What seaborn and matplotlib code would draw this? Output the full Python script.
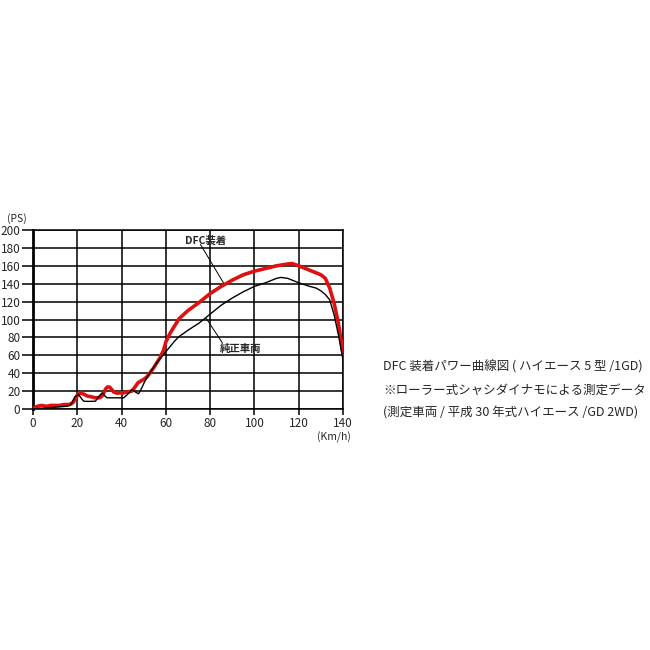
import matplotlib
matplotlib.use("Agg")
import matplotlib.pyplot as plt
import seaborn as sns
import pandas as pd

sns.set_theme(style="white")
plt.rcParams['font.family'] = ['Noto Sans CJK JP', 'DejaVu Sans']

# DFC装着 (red)
dfc_speed = [0, 2, 4, 6, 8, 10, 12, 14, 16, 17, 18, 19, 20, 21.4, 23, 24.5, 26.6, 28, 30, 31, 32, 32.7, 33.5,
             34.6, 35.5, 36.4, 37.9, 39.5, 40.9, 42.4, 44.7, 46.2, 47.3, 48.5, 50, 51.5, 53, 54.5, 56, 57.5,
             59, 60, 62, 64, 66, 70, 75, 80, 85, 90, 95, 100,
             105, 110, 115, 117, 120, 125, 130, 132, 134, 136, 138, 140]
dfc_power = [1, 3, 4, 3, 4, 4, 4, 5, 5, 5.5, 7, 11, 15, 18, 16.5, 14.5, 13.5, 12.5, 12.5, 14, 18, 22, 24.5,
             24.5, 22, 19, 17.7, 18, 18, 19, 20, 25, 29, 31, 33, 36, 41, 46, 52, 58,
             66, 75, 85, 93, 101, 110, 119, 129, 137, 144, 150, 154,
             157, 160, 162, 162.5, 160, 155, 150, 146, 135, 118, 95, 62]

# 純正車両 (black)
std_speed = [0, 5, 10, 15, 16.8, 18, 19, 20.6, 22.1, 22.9, 25, 28.2, 29.7, 31.2, 32.7, 33.5, 36, 38.5, 41,
             43.4, 44.7, 46.2, 47.7, 49.2, 50.5, 52.2, 54, 56, 58, 60, 62, 64, 66, 70, 75, 80, 85, 90, 95,
             100, 105, 110, 112, 115, 120, 125, 128, 130, 132, 134, 136, 138, 140]
std_power = [0, 1, 2, 3, 4, 9, 14, 16, 11, 8.7, 8.5, 8.7, 14, 18, 14, 12.5, 12.5, 12.5, 12.5,
             18, 22, 19, 17, 24, 31, 38, 45, 52, 58, 64, 70, 76, 81, 88, 96, 106, 116, 124, 131,
             137, 141, 146, 147, 146, 141, 137, 135, 132, 128, 122, 105, 82, 55]

x_ticks = [0, 20, 40, 60, 80, 100, 120, 140]
y_ticks = [0, 20, 40, 60, 80, 100, 120, 140, 160, 180, 200]

caption = ["DFC 装着パワー曲線図 ( ハイエース 5 型 /1GD)",
           "※ローラー式シャシダイナモによる測定データ",
           "(測定車両 / 平成 30 年式ハイエース /GD 2WD)"]

df_dfc = pd.DataFrame({"speed": dfc_speed, "power": dfc_power})
df_std = pd.DataFrame({"speed": std_speed, "power": std_power})

fig = plt.figure(figsize=(6.5, 6.5), dpi=100)
ax = fig.add_axes([33/650, 1-409/650, 310/650, 179/650])

sns.lineplot(data=df_std, x="speed", y="power", ax=ax, color="black", lw=1.0, zorder=4)
sns.lineplot(data=df_dfc, x="speed", y="power", ax=ax, color="#e01010", lw=2.6, zorder=3,
             solid_joinstyle="round", solid_capstyle="round")

ax.set_xlim(0, 140)
ax.set_ylim(0, 200)
ax.set_xticks(x_ticks)
ax.set_yticks(y_ticks)
ax.set_xlabel("")
ax.set_ylabel("")
ax.grid(True, color="black", lw=1.1)
ax.set_axisbelow(True)
for s in ["top", "right", "bottom"]:
    ax.spines[s].set_color("black")
    ax.spines[s].set_linewidth(1.1)
ax.spines["left"].set_color("black")
ax.spines["left"].set_linewidth(2.0)
ax.tick_params(axis="y", direction="out", length=8, width=1.1, color="black", labelsize=8.5, pad=1)
ax.tick_params(axis="x", direction="out", length=4, width=1.1, color="black", labelsize=8.5, pad=1.5)
ax.tick_params(left=True, bottom=True)

ax.text(-0.02, 1.035, "(PS)", transform=ax.transAxes, ha="right", va="bottom", fontsize=7.5)
ax.text(0.97, -0.128, "(Km/h)", transform=ax.transAxes, ha="center", va="top", fontsize=7.5)

ax.text(68.5, 188, "DFC装着", fontsize=7.5, ha="left", va="center", fontweight="bold")
ax.plot([75.6, 86.0], [184, 141], color="black", lw=0.7, zorder=5)
ax.text(84.5, 67, "純正車両", fontsize=7.5, ha="left", va="center", fontweight="bold")
ax.plot([78.3, 85.5], [101, 74], color="black", lw=0.7, zorder=5)

for i, line in enumerate(caption):
    fig.text(383/650, 1-(367 + i*23)/650, line, fontsize=9, ha="left", va="center")

fig.savefig("out.png", dpi=100, facecolor="white")
